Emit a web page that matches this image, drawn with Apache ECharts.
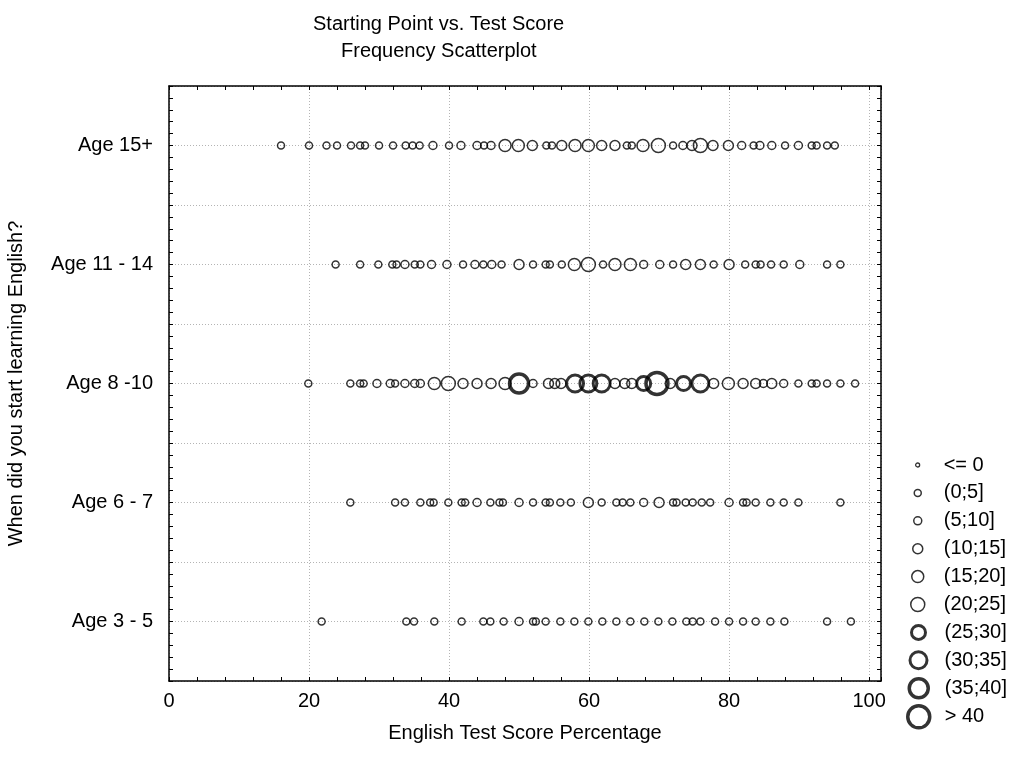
<!DOCTYPE html>
<html lang="en">
<head>
<meta charset="UTF-8">
<title>Starting Point vs. Test Score</title>
<script src="https://cdn.jsdelivr.net/npm/echarts@6/dist/echarts.min.js"></script>
<style>
  html, body { margin: 0; padding: 0; background: #fff; }
  #chart { width: 1014px; height: 758px; }
</style>
</head>
<body>
<div id="chart"></div>
<script>
// age groups, bottom to top (y = 1..5)
var ageGroups = ['Age 3 - 5', 'Age 6 - 7', 'Age 8 -10', 'Age 11 - 14', 'Age 15+'];
// frequency classes shown in the legend
var freqBins = ['<= 0', '(0;5]', '(5;10]', '(10;15]', '(15;20]', '(20;25]', '(25;30]', '(30;35]', '(35;40]', '> 40'];

// [score %, frequency] per age group
var age3to5 = [[21.8,3],[33.9,3],[35,3],[37.9,3],[41.8,3],[44.9,3],[45.9,3],[47.8,3],[50,8],[52,3],[52.4,3],[53.8,3],[55.9,3],[57.9,3],[59.9,3],[61.9,3],[63.9,3],[65.9,3],[67.9,3],[69.9,3],[71.9,3],[73.9,3],[74.8,3],[75.9,3],[78,3],[80,3],[82,3],[83.8,3],[85.9,3],[87.9,3],[94,3],[97.4,3]];
var age6to7 = [[25.9,3],[32.3,3],[33.7,3],[35.9,3],[37.3,3],[37.8,3],[39.9,3],[41.8,3],[42.3,3],[44,8],[45.9,3],[47.2,3],[47.7,3],[50,8],[52,3],[53.8,3],[54.4,3],[55.9,3],[57.4,3],[59.9,12],[61.8,3],[63.9,3],[64.8,3],[65.9,3],[67.8,8],[70,12],[72,3],[72.5,3],[73.8,3],[74.8,3],[76.1,3],[77.3,3],[80,8],[82,3],[82.5,3],[83.8,3],[85.9,3],[87.8,3],[89.9,3],[95.9,3]];
var age8to10 = [[19.9,3],[25.9,3],[27.3,3],[27.8,3],[29.7,8],[31.6,8],[32.3,3],[33.7,8],[35.1,8],[35.9,8],[37.9,17],[39.9,22],[42,12],[44,12],[46,12],[48,17],[50,37],[52,8],[54.2,12],[55.1,12],[56,12],[58,32],[59.9,32],[61.8,32],[63.7,12],[65.1,12],[66.1,12],[67.8,27],[69.7,42],[71.6,12],[73.5,27],[75.9,32],[77.8,12],[79.9,17],[82,12],[83.8,12],[84.9,8],[86.1,12],[87.8,8],[89.9,3],[91.8,3],[92.5,3],[94,3],[95.9,3],[98,3]];
var age11to14 = [[23.8,3],[27.3,3],[29.9,3],[31.9,3],[32.5,3],[33.7,8],[35.1,3],[35.9,3],[37.5,8],[39.7,8],[42,3],[43.7,8],[44.9,3],[46.1,8],[47.5,3],[50,12],[52,3],[53.8,3],[54.4,3],[56.1,3],[57.9,17],[59.9,22],[62,3],[63.7,17],[65.9,17],[67.8,8],[70.1,8],[72,3],[73.8,12],[75.9,12],[77.8,3],[80,12],[82.3,3],[83.8,3],[84.5,3],[86,3],[87.8,3],[90.1,8],[94,3],[95.9,3]];
var age15plus = [[16,3],[20,3],[22.5,3],[24,3],[26,3],[27.3,3],[28,3],[30,3],[32,3],[33.8,3],[34.8,3],[35.8,3],[37.7,8],[40,3],[41.7,8],[44,8],[45,3],[46,8],[48,17],[49.9,17],[51.9,12],[53.9,3],[54.7,3],[56.1,12],[58,17],[59.9,17],[61.8,12],[63.7,12],[65.4,3],[66.1,3],[67.7,17],[69.9,22],[72,3],[73.4,8],[74.7,12],[75.9,22],[77.7,12],[79.9,12],[81.8,8],[83.5,3],[84.4,8],[86.1,8],[88,3],[89.9,8],[91.8,3],[92.5,3],[94,3],[95.1,3]];

var xTicks = [0, 20, 40, 60, 80, 100];

// marker look per frequency class
var binSize = [4, 7, 8, 10, 12, 14, 14, 17, 19, 22];
var binLine = [1.3, 1.5, 1.5, 1.5, 1.5, 1.5, 3, 3, 3.5, 3.5];

var FONT = 'Liberation Sans, Arial, sans-serif';
var rows = [age3to5, age6to7, age8to10, age11to14, age15plus];

function binOf(f) {
  if (f <= 0) return 0;
  return Math.min(9, Math.ceil(f / 5));
}

var seriesData = freqBins.map(function () { return []; });
rows.forEach(function (row, r) {
  row.forEach(function (p) {
    seriesData[binOf(p[1])].push([p[0], r + 1, p[1]]);
  });
});

var series = freqBins.map(function (name, i) {
  return {
    name: name,
    type: 'scatter',
    symbol: 'circle',
    symbolSize: binSize[i],
    xAxisIndex: 0,
    yAxisIndex: 0,
    itemStyle: { color: 'rgba(0,0,0,0)', borderColor: '#000', borderWidth: binLine[i] },
    emphasis: { disabled: true },
    data: seriesData[i]
  };
});

// one legend per class so each icon gets its own size; icons centred on x=917, text from x=943
var legends = freqBins.map(function (name, i) {
  var d = binSize[i];
  return {
    data: [{ name: name, icon: 'circle' }],
    left: 917 - d / 2,
    top: 465 + i * 27.9 - 12,
    padding: 0,
    itemWidth: d,
    itemHeight: d,
    selectedMode: false,
    itemStyle: { color: 'rgba(0,0,0,0)', borderColor: '#000', borderWidth: binLine[i] },
    textStyle: { fontFamily: FONT, fontSize: 20, color: '#000', lineHeight: 24,
                 padding: [0, 0, 0, 21 - d / 2] }
  };
});

var axisLineStyle = { color: '#000', width: 1.5 };
var gridLineStyle = { color: '#b4b4b4', type: [1, 2], width: 1 };
var tickStyle = { color: '#000', width: 1 };

var chart = echarts.init(document.getElementById('chart'));
chart.setOption({
  backgroundColor: '#fff',
  animation: false,
  title: [
    { text: 'Starting Point vs. Test Score', left: 313, top: 14, padding: 0,
      textStyle: { fontFamily: FONT, fontSize: 20, fontWeight: 'normal', color: '#000' } },
    { text: 'Frequency Scatterplot', left: 341, top: 41, padding: 0,
      textStyle: { fontFamily: FONT, fontSize: 20, fontWeight: 'normal', color: '#000' } }
  ],
  legend: legends,
  grid: { left: 169, top: 86, width: 712, height: 595, containLabel: false, outerBoundsMode: 'none' },
  xAxis: [
    {
      type: 'value', position: 'bottom', min: 0, max: 101.7, interval: 20,
      name: 'English Test Score Percentage', nameLocation: 'middle', nameGap: 42,
      nameTextStyle: { fontFamily: FONT, fontSize: 20, color: '#000' },
      axisLine: { show: true, onZero: false, lineStyle: axisLineStyle },
      axisTick: { show: false },
      axisLabel: {
        fontFamily: FONT, fontSize: 20, color: '#000', margin: 10,
        formatter: function (v) { return xTicks.indexOf(Math.round(v)) >= 0 && v <= 100 ? String(Math.round(v)) : ''; }
      },
      splitLine: { show: true, lineStyle: gridLineStyle }
    },
    {
      type: 'value', position: 'bottom', min: 0, max: 101.7, interval: 4,
      axisLine: { show: false, onZero: false },
      axisTick: { show: true, inside: true, length: 4, lineStyle: tickStyle },
      axisLabel: { show: false },
      splitLine: { show: false }
    },
    {
      type: 'value', position: 'top', min: 0, max: 101.7, interval: 4,
      axisLine: { show: true, onZero: false, lineStyle: axisLineStyle },
      axisTick: { show: true, inside: true, length: 4, lineStyle: tickStyle },
      axisLabel: { show: false },
      splitLine: { show: false }
    }
  ],
  yAxis: [
    {
      type: 'value', position: 'left', min: 0.5, max: 5.5, interval: 0.5,
      name: 'When did you start learning English?', nameLocation: 'middle', nameGap: 143, nameRotate: 90,
      nameTextStyle: { fontFamily: FONT, fontSize: 20, color: '#000' },
      axisLine: { show: true, onZero: false, lineStyle: axisLineStyle },
      axisTick: { show: true, inside: true, length: 4, lineStyle: tickStyle },
      minorTick: { show: true, splitNumber: 5, length: 4, lineStyle: tickStyle },
      axisLabel: {
        fontFamily: FONT, fontSize: 20, color: '#000', margin: 16,
        formatter: function (v) {
          var k = Math.round(v * 2);
          return k % 2 === 0 ? ageGroups[k / 2 - 1] : '';
        }
      },
      splitLine: { show: true, lineStyle: gridLineStyle }
    },
    {
      type: 'value', position: 'right', min: 0.5, max: 5.5, interval: 0.5,
      axisLine: { show: true, onZero: false, lineStyle: axisLineStyle },
      axisTick: { show: true, inside: true, length: 4, lineStyle: tickStyle },
      minorTick: { show: true, splitNumber: 5, length: 4, lineStyle: tickStyle },
      axisLabel: { show: false },
      splitLine: { show: false }
    }
  ],
  series: series
});
</script>
</body>
</html>
